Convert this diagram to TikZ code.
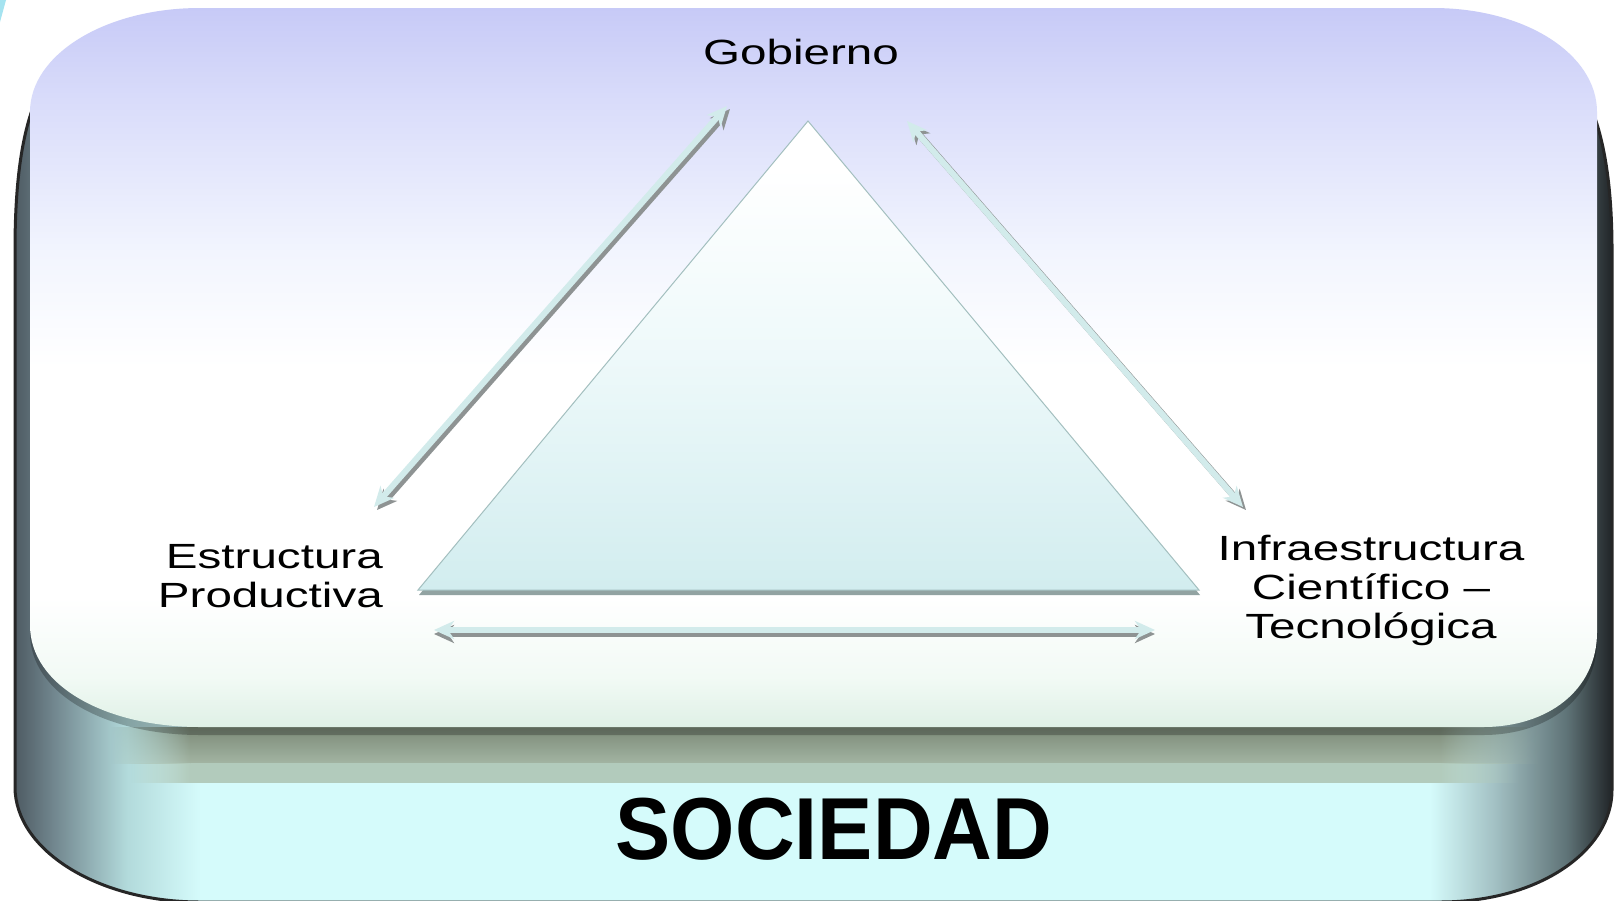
\documentclass[tikz,border=0pt]{standalone}
\usepackage{fontspec}
\usepackage{graphicx}
\setmainfont{Liberation Sans}
\usetikzlibrary{arrows.meta,fadings}
\definecolor{bL0}{HTML}{4E5B63}
\definecolor{bL1}{HTML}{71868E}
\definecolor{bL2}{HTML}{B2DADB}
\definecolor{bC}{HTML}{D5FBFB}
\definecolor{bR1}{HTML}{A3C1C4}
\definecolor{bR2}{HTML}{5E7276}
\definecolor{bR3}{HTML}{202427}
\definecolor{fT}{HTML}{C7CAF7}
\definecolor{fT1}{HTML}{D9DCFA}
\definecolor{fT2}{HTML}{F2F5FE}
\definecolor{fB}{HTML}{DFF0E6}
\definecolor{fB1}{HTML}{F2FAF5}
\definecolor{triMid}{HTML}{EEF9FA}
\definecolor{triBot}{HTML}{D2EDEF}
\definecolor{triEdge}{HTML}{A3BFBF}
\definecolor{triShadow}{HTML}{7F9392}
\definecolor{arrFill}{HTML}{D2EBEB}
\definecolor{arrShadow}{HTML}{8E9393}
\definecolor{band1}{HTML}{7C8A78}
\definecolor{band2}{HTML}{A2B4A2}
\definecolor{band3}{HTML}{B2CBBC}
\definecolor{cornerCyan}{HTML}{A5E3F0}
\pgfdeclarehorizontalshading{baseshade}{100bp}{color(0bp)=(bL0); color(25bp)=(bL0); color(26.2bp)=(bL1); color(28.5bp)=(bL2); color(30.8bp)=(bC); color(69.3bp)=(bC); color(71.3bp)=(bR1); color(73.6bp)=(bR2); color(75bp)=(bR3); color(100bp)=(bR3)}
\pgfdeclareverticalshading{faceshade}{100bp}{color(0bp)=(fB); color(25bp)=(fB); color(28.5bp)=(fB1); color(34bp)=(white); color(50bp)=(white); color(58bp)=(fT2); color(68.6bp)=(fT1); color(75bp)=(fT); color(100bp)=(fT)}
\pgfdeclareverticalshading{trishade}{100bp}{color(0bp)=(triBot); color(25bp)=(triBot); color(50bp)=(triMid); color(70bp)=(white); color(100bp)=(white)}
\tikzset{
  lbl/.style={font=\fontsize{35}{39}\selectfont, text=black, inner sep=0pt, align=center},
  tipboth/.style={{Stealth[length=20pt,width=18pt,inset=6pt]}-{Stealth[length=20pt,width=18pt,inset=6pt]}},
  arrsh/.style={draw=arrShadow, line width=6.5pt, tipboth},
  arrfg/.style={draw=arrFill, line width=6pt, tipboth}
}
\begin{document}
\begin{tikzpicture}[x=1pt,y=-1pt]
\useasboundingbox (0,0) rectangle (1621,900);
\fill[white] (0,0) rectangle (1621,900);
\fill[cornerCyan] (0,0) -- (6,0) -- (0,22) -- cycle;
% base slab
\shadedraw[shading=baseshade, draw=black!85, line width=3pt]
  (120,40) -- (1500,40) .. controls (1580,40) and (1612,120) .. (1612,250)
  -- (1612,790) .. controls (1612,850) and (1540,902) .. (1440,902)
  -- (200,902) .. controls (98,902) and (15,850) .. (15,787)
  -- (15,250) .. controls (15,120) and (40,40) .. (120,40) -- cycle;
% band under the face
\shade[top color=band1, bottom color=band2] (190,727) rectangle (1440,763);
\fill[band3] (190,763) rectangle (1440,783);
\shade[top color=band1, bottom color=band2, path fading=west] (110,727) rectangle (190,763);
\fill[band3, path fading=west] (130,763) rectangle (190,783);
\shade[top color=band1, bottom color=band2, path fading=east] (1440,727) rectangle (1540,763);
\fill[band3, path fading=east] (1440,763) rectangle (1520,783);
% face shadow
\begin{scope}[shift={(0,8)}]
\fill[black, opacity=0.25]
  (200,8) -- (1433,8) .. controls (1525,8) and (1597,54) .. (1597,112)
  -- (1597,632) .. controls (1597,690) and (1548,727) .. (1483,727)
  -- (200,727) .. controls (106,727) and (30,686) .. (30,625)
  -- (30,112) .. controls (30,54) and (106,8) .. (200,8) -- cycle;
\end{scope}
% top face
\shade[shading=faceshade]
  (200,8) -- (1433,8) .. controls (1525,8) and (1597,54) .. (1597,112)
  -- (1597,632) .. controls (1597,690) and (1548,727) .. (1483,727)
  -- (200,727) .. controls (106,727) and (30,686) .. (30,625)
  -- (30,112) .. controls (30,54) and (106,8) .. (200,8) -- cycle;
% triangle
\coordinate (tA) at (808,121);
\coordinate (tL) at (418,590);
\coordinate (tR) at (1199,590);
\fill[triShadow, opacity=0.85] ([shift={(1,5)}]tA) -- ([shift={(1,5)}]tL) -- ([shift={(1,5)}]tR) -- cycle;
\shadedraw[shading=trishade, draw=triEdge, line width=1pt] (tA) -- (tL) -- (tR) -- cycle;
% labels
\node[lbl] (gob) at (801,52) {\scalebox{1.36}[1]{Gobierno}};
\node[lbl, align=right, anchor=east] (est) at (383,576) {\scalebox{1.36}[1]{Estructura}\\\scalebox{1.36}[1]{Productiva}};
\node[lbl] (inf) at (1371,590) {\scalebox{1.36}[1]{Infraestructura}\\\scalebox{1.36}[1]{Científico –}\\\scalebox{1.36}[1]{Tecnológica}};
\node[font=\fontsize{88}{88}\selectfont\bfseries, inner sep=0pt] (soc) at (834,829) {\scalebox{0.94}[1]{SOCIEDAD}};
% arrow end points
\coordinate (l1) at (374,507);
\coordinate (l2) at (727,106);
\coordinate (r1) at (907,121);
\coordinate (r2) at (1243,507);
\coordinate (b1) at (434,630);
\coordinate (b2) at (1155,630);
% arrows
\draw[arrsh] ([shift={(3,3)}]l1) -- ([shift={(3,3)}]l2);
\draw[arrfg] (l1) -- (l2);
\draw[arrsh] ([shift={(3,3)}]r1) -- ([shift={(3,3)}]r2);
\draw[arrfg] (r1) -- (r2);
\draw[arrsh] ([shift={(0,4)}]b1) -- ([shift={(0,4)}]b2);
\draw[arrfg] (b1) -- (b2);
\end{tikzpicture}
\end{document}
